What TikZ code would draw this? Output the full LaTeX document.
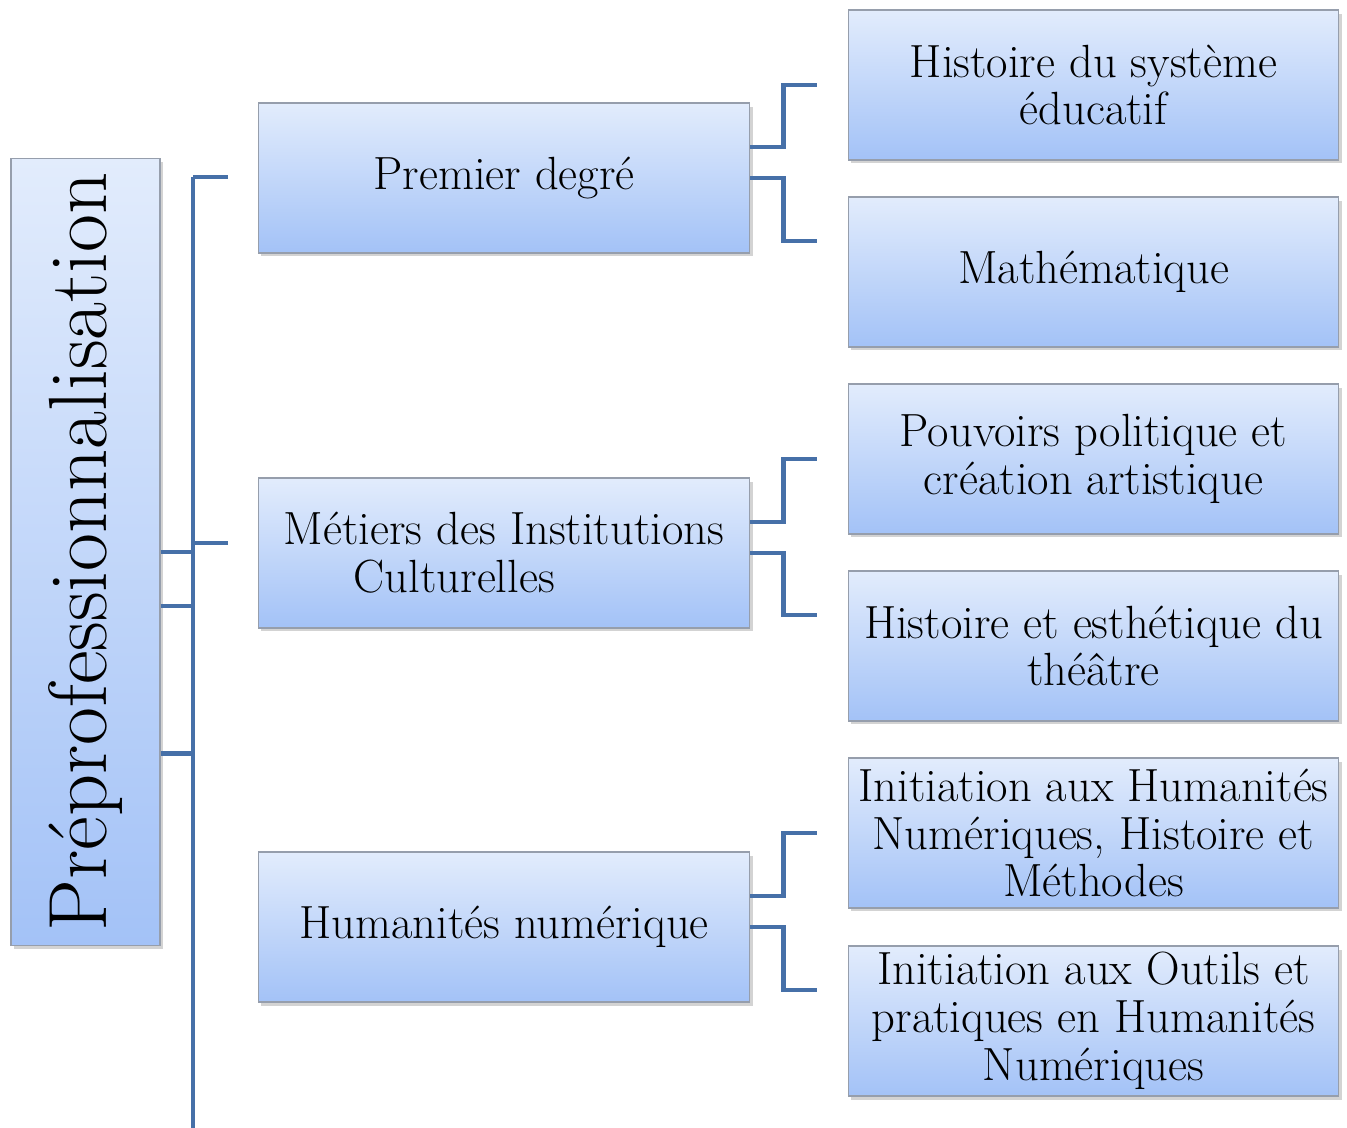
\documentclass[tikz,border=0pt]{standalone}
\usepackage{fontspec}
\usepackage{xcolor}
\usepackage{tikz}
\usetikzlibrary{shadows}

\definecolor{haut}{RGB}{226,236,252}
\definecolor{bas}{RGB}{163,194,247}
\definecolor{bord}{RGB}{150,158,172}
\definecolor{trait}{RGB}{70,112,168}

\begin{document}
\begin{tikzpicture}[
    x=0.02cm, y=-0.02cm,
    every node/.style={font=\fontsize{26.5}{27.3}\selectfont, inner sep=2pt, align=center}
  ]
  \tikzset{
    boite/.style={draw=bord, line width=0.6pt, top color=haut, bottom color=bas,
      drop shadow={opacity=0.35, shadow xshift=1.5pt, shadow yshift=-2pt}},
    moyen/.style={boite, minimum width=9.84cm, minimum height=3cm},
    feuille/.style={boite, minimum width=9.82cm, minimum height=3cm},
    lien/.style={draw=trait, line width=2.8pt}
  }
  \useasboundingbox (0,0) rectangle (1347,1128);

  \node[boite, minimum width=2.98cm, minimum height=15.76cm] (racine) at (85.5,552)
    {\rotatebox{90}{\fontsize{47}{52}\selectfont Préprofessionnalisation}};

  \node[moyen] (pd) at (504,178) {Premier degré};
  \node[moyen, align=left] (mic) at (504,553) {Métiers des Institutions\\\hspace*{1.4cm}Culturelles};
  \node[moyen] (hn) at (504,927) {Humanités numérique};

  \node[feuille] (hse) at (1093.5,85) {Histoire du système\\éducatif};
  \node[feuille] (math) at (1093.5,272) {Mathématique};
  \node[feuille] (ppca) at (1093.5,459) {Pouvoirs politique et\\création artistique};
  \node[feuille] (het) at (1093.5,646) {Histoire et esthétique du\\théâtre};
  \node[feuille] (ihn) at (1093.5,833) {Initiation aux Humanités\\Numériques, Histoire et\\Méthodes};
  \node[feuille] (iop) at (1093.5,1021) {Initiation aux Outils et\\pratiques en Humanités\\Numériques};

  % barre verticale de gauche
  \coordinate (haut barre) at (193,177);
  \coordinate (bas barre) at (193,1128);
  \coordinate (e1) at (228,177);
  \coordinate (e2) at (228,543);
  \draw[lien] (haut barre) -- (bas barre);
  \draw[lien] (e1) -- (e1 -| haut barre);
  \draw[lien] (e2) -- (e2 -| haut barre);
  \foreach \d in {0cm, 1.08cm, 4.04cm}
    \draw[lien] ([yshift=-\d]racine.east) -- +(33,0);

  \foreach \m/\a/\b in {pd/hse/math, mic/ppca/het, hn/ihn/iop} {
    \draw[lien] ([yshift=0.62cm]\m.east) -- ++(33,0) |- ([xshift=-0.62cm]\a.west);
    \draw[lien] (\m.east) -- ++(33,0) |- ([xshift=-0.62cm, yshift=0.62cm]\b.west);
  }
\end{tikzpicture}
\end{document}
